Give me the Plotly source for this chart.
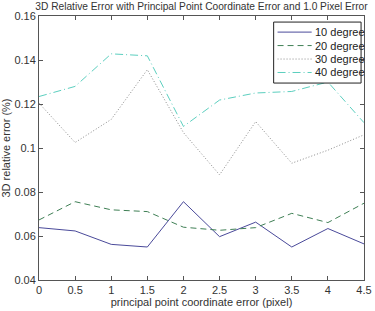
import plotly.graph_objects as go

x_vals = [0, 0.5, 1, 1.5, 2, 2.5, 3, 3.5, 4, 4.5]
deg10 = [0.0638, 0.0623, 0.0562, 0.0550, 0.0756, 0.0597, 0.0663, 0.0550, 0.0634, 0.0564]
deg20 = [0.0673, 0.0756, 0.0719, 0.0711, 0.0640, 0.0626, 0.0638, 0.0703, 0.0661, 0.0749]
deg30 = [0.1204, 0.1025, 0.1130, 0.1356, 0.1070, 0.0878, 0.1120, 0.0931, 0.0990, 0.1060]
deg40 = [0.1234, 0.1280, 0.1428, 0.1419, 0.1098, 0.1218, 0.1250, 0.1257, 0.1300, 0.1115]
names = ["10 degree", "20 degree", "30 degree", "40 degree"]
colors = ["#4a4a9a", "#3f7f55", "#8a8a8a", "#5ccfbf"]
dashes = ["solid", "6px,4px", "1px,2px", "8px,3px,1px,3px"]

x_ticks = [0, 0.5, 1, 1.5, 2, 2.5, 3, 3.5, 4, 4.5]
x_ticktext = ["0", "0.5", "1", "1.5", "2", "2.5", "3", "3.5", "4", "4.5"]
y_ticks = [0.04, 0.06, 0.08, 0.1, 0.12, 0.14, 0.16]
y_ticktext = ["0.04", "0.06", "0.08", "0.1", "0.12", "0.14", "0.16"]

FAM = "Liberation Sans, Arial, sans-serif"

fig = go.Figure()
for name, ys, c, d in zip(names, [deg10, deg20, deg30, deg40], colors, dashes):
    fig.add_trace(go.Scatter(x=x_vals, y=ys, mode="lines", name=name,
                             line=dict(color=c, width=1, dash=d), showlegend=False))

font = dict(family=FAM, size=11, color="#333333")
axis_common = dict(showgrid=False, zeroline=False, showline=True, linecolor="#555555",
                   linewidth=1, mirror="ticks", ticks="inside", ticklen=4,
                   tickcolor="#555555", tickfont=font)

# Manual legend (box, line samples and labels) in plot-domain coordinates
leg_x0, leg_x1, leg_y0, leg_y1 = 0.722, 0.991, 0.746, 0.977
sample_x0, sample_x1, label_x = 0.734, 0.839, 0.842
row_y = [0.939, 0.888, 0.837, 0.786]

shapes = [dict(type="rect", xref="x domain", yref="y domain",
               x0=leg_x0, x1=leg_x1, y0=leg_y0, y1=leg_y1,
               fillcolor="white", line=dict(color="#222222", width=1), layer="above")]
annotations = []
for name, c, d, ry in zip(names, colors, dashes, row_y):
    shapes.append(dict(type="line", xref="x domain", yref="y domain",
                       x0=sample_x0, x1=sample_x1, y0=ry, y1=ry,
                       line=dict(color=c, width=1, dash=d), layer="above"))
    annotations.append(dict(text=name, xref="x domain", yref="y domain",
                            x=label_x, y=ry, xanchor="left", yanchor="middle",
                            showarrow=False, font=dict(family=FAM, size=11, color="#222222")))

fig.update_layout(
    width=375, height=311,
    margin=dict(l=37, r=3, t=16, b=31),
    paper_bgcolor="white", plot_bgcolor="white",
    font=font,
    title=dict(text="3D Relative Error with Principal Point Coordinate Error and 1.0 Pixel Error",
               x=0.5, xref="paper", xanchor="center", y=0.99, yanchor="top",
               font=dict(family=FAM, size=10.2, color="#333333")),
    xaxis=dict(range=[0, 4.5], tickvals=x_ticks, ticktext=x_ticktext,
               ticklabeloverflow="allow",
               title=dict(text="principal point coordinate error (pixel)", standoff=1,
                          font=dict(family=FAM, size=11, color="#333333")),
               **axis_common),
    yaxis=dict(range=[0.04, 0.16], tickvals=y_ticks, ticktext=y_ticktext,
               title=dict(text="3D relative error (%)", standoff=4,
                          font=dict(family=FAM, size=11, color="#333333")),
               **axis_common),
    shapes=shapes,
    annotations=annotations,
    showlegend=False,
)

fig.write_html("out.html")
